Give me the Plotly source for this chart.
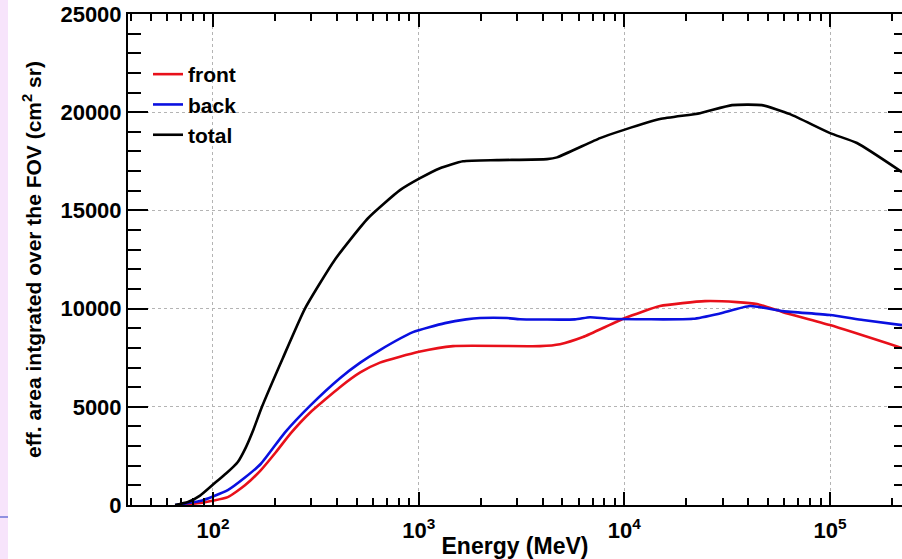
import plotly.graph_objects as go

# ---- data ----
energy_total = [65.4, 75.6, 86.5, 102, 115.7, 132, 144.7, 157, 173, 219, 280, 392, 567, 811, 1015, 1269,
                1642, 2403, 4205, 4702, 7610, 9956, 14895, 23320, 33360, 46660, 63830, 100000, 135100, 223700]
area_total = [0, 150, 480, 1120, 1600, 2190, 2950, 3820, 5000, 7500, 10000, 12500, 14600, 16030, 16640, 17150,
              17500, 17560, 17610, 17700, 18680, 19100, 19650, 19950, 20360, 20360, 19900, 18935, 18430, 16950]

energy_back = [65.4, 86.5, 118, 143, 171, 224, 296, 414, 520, 648, 938, 1342, 1700, 1986, 2688, 3108, 5751,
               6805, 8511, 21560, 29150, 40800, 59020, 100000, 144500, 223700]
area_back = [0, 200, 760, 1400, 2100, 3700, 5050, 6460, 7250, 7890, 8800, 9260, 9450, 9520, 9520, 9460, 9450,
             9560, 9480, 9480, 9750, 10130, 9870, 9670, 9420, 9160]

energy_front = [67.6, 86.5, 118, 143, 171, 202.5, 239, 296, 414, 520, 648, 1003, 1468, 3889, 4863, 6292,
                10068, 14895, 24650, 35270, 44120, 59020, 100000, 223700]
area_front = [0, 100, 400, 1000, 1780, 2700, 3660, 4700, 6000, 6750, 7250, 7800, 8090, 8090, 8190, 8550,
              9520, 10130, 10380, 10330, 10230, 9820, 9160, 7990]

x_tickvals = [100, 1000, 10000, 100000]
x_ticktext = ["10<sup>2</sup>", "10<sup>3</sup>", "10<sup>4</sup>", "10<sup>5</sup>"]
y_tickvals = [0, 5000, 10000, 15000, 20000, 25000]

W, H = 902, 559
ML, MR, MT, MB = 128, 0, 14, 54
FONT = "Liberation Sans, Arial, sans-serif"

fig = go.Figure()
for name, xs, ys, col in [("front", energy_front, area_front, "#e8101a"),
                          ("back", energy_back, area_back, "#0a10e0"),
                          ("total", energy_total, area_total, "#000000")]:
    fig.add_trace(go.Scatter(x=xs, y=ys, mode="lines", name=name,
                             line=dict(color=col, width=2.6, shape="spline", smoothing=0.5)))

# helper trace for right-side inner ticks
fig.add_trace(go.Scatter(x=[100], y=[0], yaxis="y2", mode="lines", showlegend=False,
                         hoverinfo="skip", line=dict(width=0)))

pw = W - ML - MR
ph = H - MT - MB
fig.update_layout(
    width=W, height=H,
    margin=dict(l=ML, r=MR, t=MT, b=MB),
    paper_bgcolor="white", plot_bgcolor="white",
    font=dict(family=FONT, color="black"),
    showlegend=True,
    legend=dict(x=(148 - ML) / pw, y=1 - (54 - MT) / ph, xanchor="left", yanchor="top",
                bgcolor="rgba(0,0,0,0)", font=dict(size=21, weight="bold", family=FONT),
                tracegroupgap=0, itemwidth=30),
    xaxis=dict(type="log", range=[1.5868, 5.3496], tickvals=x_tickvals, ticktext=x_ticktext,
               ticks="inside", ticklen=13, tickwidth=2, tickcolor="black",
               showline=True, linecolor="black", linewidth=2, mirror="ticks",
               showgrid=True, gridcolor="#b4b4b4", griddash="dot", gridwidth=1,
               minor=dict(dtick="D1", ticks="inside", ticklen=7, tickwidth=2, tickcolor="black", showgrid=False),
               tickfont=dict(size=22, weight="bold", family=FONT), ticklabelstandoff=5,
               title=dict(text="Energy (MeV)", font=dict(size=23, weight="bold", family=FONT), standoff=0),
               zeroline=False),
    yaxis=dict(range=[0, 25000], tickvals=y_tickvals, tickformat="d",
               ticks="inside", ticklen=20, tickwidth=2, tickcolor="black",
               showline=True, linecolor="black", linewidth=2,
               showgrid=True, gridcolor="#b4b4b4", griddash="dot", gridwidth=1,
               minor=dict(dtick=1000, ticks="inside", ticklen=13, tickwidth=2, tickcolor="black", showgrid=False),
               tickfont=dict(size=22, weight="bold", family=FONT),
               title=dict(text="eff. area intgrated over the FOV (cm<sup>2</sup> sr)",
                          font=dict(size=21, weight="bold", family=FONT), standoff=13),
               zeroline=False),
    yaxis2=dict(range=[0, 25000], overlaying="y", side="right", tickvals=y_tickvals,
                ticks="inside", ticklen=14, tickwidth=2, tickcolor="black",
                showticklabels=False, showline=False, showgrid=False, zeroline=False,
                minor=dict(dtick=1000, ticks="inside", ticklen=8, tickwidth=2, tickcolor="black", showgrid=False)),
    shapes=[
        dict(type="rect", xref="paper", yref="paper", x0=-ML / pw, x1=(8 - ML) / pw,
             y0=-MB / ph, y1=1 + MT / ph, fillcolor="#f7e4fb", line=dict(width=0), layer="below"),
        dict(type="line", xref="paper", yref="paper", x0=-ML / pw, x1=(8 - ML) / pw,
             y0=1 - (517 - MT) / ph, y1=1 - (517 - MT) / ph, line=dict(color="#9090e0", width=2)),
    ],
)

fig.write_html("out.html")
